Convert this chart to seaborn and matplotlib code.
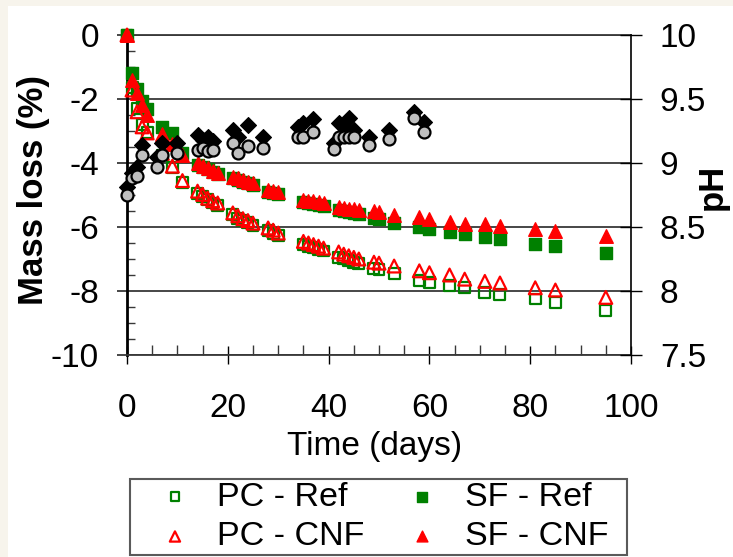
import matplotlib
matplotlib.use("Agg")
import matplotlib.pyplot as plt
from matplotlib.patches import Rectangle
from matplotlib.ticker import MultipleLocator, FormatStrFormatter
import seaborn as sns

# Sampling days for the mass-loss measurements (all four mixes)
days = [0, 1, 2, 3, 4, 7, 9, 11, 14, 15, 16, 17, 18, 21, 22, 23, 24, 25,
        28, 29, 30, 35, 36, 37, 38, 39, 42, 43, 44, 45, 46, 49, 50, 53,
        58, 60, 64, 67, 71, 74, 81, 85, 95]

# Mass loss (%) per mix
pc_ref = [0, -1.65, -2.3, -2.8, -3.05, -3.75, -4.15, -4.6, -4.95, -5.05, -5.15,
          -5.25, -5.32, -5.62, -5.72, -5.8, -5.87, -5.95, -6.12, -6.2, -6.28,
          -6.55, -6.6, -6.65, -6.7, -6.75, -6.95, -7.0, -7.05, -7.1, -7.15,
          -7.3, -7.32, -7.45, -7.66, -7.72, -7.84, -7.9, -8.05, -8.12, -8.25,
          -8.35, -8.6]
pc_cnf = [0, -1.72, -2.4, -2.87, -3.06, -3.7, -4.1, -4.55, -4.88, -4.98, -5.1,
          -5.18, -5.25, -5.56, -5.65, -5.74, -5.8, -5.88, -6.03, -6.1, -6.19,
          -6.45, -6.5, -6.55, -6.6, -6.66, -6.78, -6.85, -6.9, -6.95, -7.0,
          -7.1, -7.13, -7.22, -7.37, -7.43, -7.5, -7.63, -7.7, -7.75, -7.9,
          -7.97, -8.2]
sf_ref = [0, -1.2, -1.7, -2.05, -2.3, -2.87, -3.06, -3.7, -4.05, -4.12, -4.2,
          -4.28, -4.35, -4.47, -4.52, -4.58, -4.63, -4.68, -4.9, -4.93, -4.97,
          -5.22, -5.25, -5.28, -5.3, -5.33, -5.47, -5.5, -5.52, -5.55, -5.58,
          -5.72, -5.74, -5.88, -6.0, -6.07, -6.15, -6.22, -6.31, -6.37, -6.53,
          -6.6, -6.8]
sf_cnf = [0, -1.4, -1.8, -2.2, -2.5, -3.1, -3.4, -3.75, -4.0, -4.1, -4.15,
          -4.25, -4.3, -4.43, -4.48, -4.53, -4.58, -4.62, -4.84, -4.87, -4.9,
          -5.16, -5.18, -5.2, -5.22, -5.26, -5.36, -5.4, -5.43, -5.45, -5.48,
          -5.5, -5.53, -5.63, -5.68, -5.76, -5.84, -5.91, -5.91, -5.97, -6.06,
          -6.12, -6.28]

# pH of the exposure solution
ph_days = [0, 1, 2, 3, 6, 7, 10, 14, 15, 16, 17, 21, 22, 24, 27, 34, 35, 37,
           41, 42, 43, 44, 45, 48, 52, 57, 59]
ph_a = [8.81, 8.92, 8.97, 9.14, 9.05, 9.16, 9.16, 9.22, 9.18, 9.2, 9.17, 9.26,
        9.2, 9.3, 9.2, 9.28, 9.31, 9.34, 9.16, 9.31, 9.28, 9.35, 9.26, 9.2,
        9.26, 9.4, 9.32]
ph_b = [8.75, 8.88, 8.9, 9.06, 8.97, 9.06, 9.08, 9.1, 9.12, 9.09, 9.1, 9.16,
        9.08, 9.13, 9.12, 9.2, 9.2, 9.24, 9.11, 9.2, 9.2, 9.2, 9.2, 9.14,
        9.19, 9.35, 9.24]

GREEN = "#008000"
RED = "#FF0000"
GRID = "#383838"

sns.set_style("white")
plt.rcParams["font.family"] = ["Liberation Sans", "DejaVu Sans"]
plt.rcParams["axes.unicode_minus"] = False
for key in ("text.color", "axes.labelcolor", "xtick.color", "ytick.color"):
    plt.rcParams[key] = "black"

W, H = 733, 557
fig = plt.figure(figsize=(W / 100, H / 100), dpi=100, facecolor="#F7F4EC")
fig.patches.append(Rectangle((8 / W, 0), 1, 1 - 6 / H, transform=fig.transFigure,
                             facecolor="white", edgecolor="none", zorder=-10))

ax = fig.add_axes([127 / W, 202 / H, 504 / W, 320 / H])
ax.set_facecolor("none")

common = dict(ax=ax, clip_on=False, legend=False)
sns.scatterplot(x=days, y=pc_ref, marker="s", s=62, facecolor="none",
                edgecolor=GREEN, linewidth=1.6, label="PC - Ref", zorder=3, **common)
sns.scatterplot(x=days, y=sf_ref, marker="s", s=70, facecolor=GREEN,
                edgecolor=GREEN, linewidth=1.0, label="SF - Ref", zorder=3, **common)
sns.scatterplot(x=days, y=pc_cnf, marker="^", s=85, facecolor="none",
                edgecolor=RED, linewidth=1.6, label="PC - CNF", zorder=4, **common)
sns.scatterplot(x=days, y=sf_cnf, marker="^", s=95, facecolor=RED,
                edgecolor=RED, linewidth=1.0, label="SF - CNF", zorder=4, **common)

ax.set_xlim(0, 100)
ax.set_ylim(-10, 0)

ax.xaxis.set_major_locator(MultipleLocator(20))
ax.xaxis.set_minor_locator(MultipleLocator(5))
ax.yaxis.set_major_locator(MultipleLocator(2))
ax.yaxis.set_minor_locator(MultipleLocator(0.5))

ax.tick_params(axis="y", which="major", direction="out", length=7.2, width=1.3,
               color=GRID, labelsize=24, pad=13, left=True)
ax.tick_params(axis="y", which="minor", direction="in", length=5.5, width=1.0,
               color=GRID, left=True)
ax.tick_params(axis="x", which="major", direction="inout", length=13, width=1.0,
               color="black", labelsize=24, pad=21, bottom=True)
ax.tick_params(axis="x", which="minor", direction="in", length=7, width=1.0,
               color=GRID, bottom=True)

ax.grid(axis="y", which="major", color=GRID, linewidth=1.3)
ax.grid(axis="x", visible=False)
ax.set_axisbelow(True)

ax.spines["left"].set_color("black")
ax.spines["left"].set_linewidth(2.0)
ax.spines["bottom"].set_color(GRID)
ax.spines["bottom"].set_linewidth(1.3)
ax.spines["top"].set_color(GRID)
ax.spines["top"].set_linewidth(1.3)
ax.spines["right"].set_visible(False)

ax.set_ylabel("Mass loss (%)", fontsize=25, fontweight="bold")
ax.yaxis.set_label_coords(-0.186, 0.516)
ax.yaxis.label.set_va("center")
ax.set_xlabel("Time (days)", fontsize=24)
ax.xaxis.set_label_coords(0.492, -0.2875)
ax.xaxis.label.set_va("center")

# pH on the secondary axis
ax2 = ax.twinx()
sns.scatterplot(x=ph_days, y=ph_a, ax=ax2, marker="D", s=66, color="black",
                edgecolor="black", linewidth=0.8, clip_on=False, legend=False, zorder=5)
sns.scatterplot(x=ph_days, y=ph_b, ax=ax2, marker="o", s=74, facecolor="#C0C0C0",
                edgecolor="black", linewidth=1.6, clip_on=False, legend=False, zorder=6)
ax2.set_ylim(7.5, 10)
ax2.yaxis.set_major_locator(MultipleLocator(0.5))
ax2.yaxis.set_major_formatter(FormatStrFormatter("%g"))
ax2.tick_params(axis="y", which="major", direction="inout", length=16.5, width=1.0,
                color="black", labelsize=24, pad=12.5, right=True)
for side in ("left", "top", "bottom"):
    ax2.spines[side].set_visible(False)
ax2.spines["right"].set_color("black")
ax2.spines["right"].set_linewidth(1.2)
ax2.set_ylabel("pH", fontsize=25, fontweight="bold", rotation=90)
ax2.yaxis.set_label_coords(1.161, 0.525)
ax2.yaxis.label.set_va("center")

# Legend box below the plot
fig.patches.append(Rectangle((130 / W, 2 / H), 497 / W, 76 / H, transform=fig.transFigure,
                             facecolor="white", edgecolor="#5a5a5a", linewidth=1.5,
                             zorder=1))
handles, labels = ax.get_legend_handles_labels()
order = ["PC - Ref", "PC - CNF", "SF - Ref", "SF - CNF"]
hmap = dict(zip(labels, handles))
leg = fig.legend([hmap[k] for k in order], order, ncol=2, loc="center",
                 bbox_to_anchor=(383 / W, (H - 517) / H),
                 fontsize=24.5, frameon=False, borderpad=0, labelspacing=0.26,
                 handlelength=1.0, handletextpad=0.74, columnspacing=1.2,
                 borderaxespad=0, scatterpoints=1, markerscale=0.8)
leg.set_zorder(2)

fig.savefig("out.png", dpi=100, facecolor=fig.get_facecolor())
